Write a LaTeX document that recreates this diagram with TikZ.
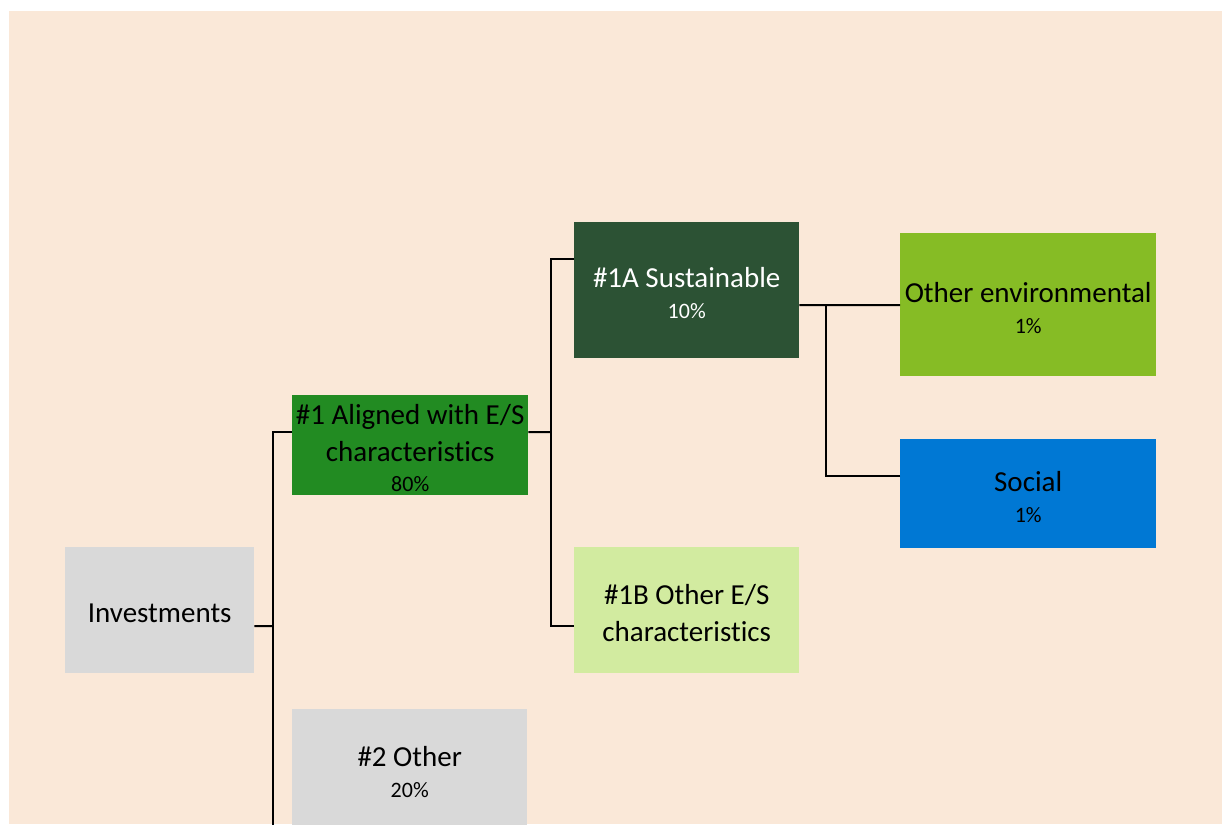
\documentclass[tikz,border=0pt]{standalone}
\usepackage{fontspec}
\setmainfont{Carlito}[Ligatures=NoCommon]
\definecolor{peach}{HTML}{FAE8D8}
\definecolor{boxgray}{HTML}{D9D9D9}
\definecolor{forest}{HTML}{228B22}
\definecolor{darkgreen}{HTML}{2C5234}
\definecolor{lightgreen}{HTML}{D2EBA0}
\definecolor{olive}{HTML}{86BC25}
\definecolor{blueS}{HTML}{0078D4}
\newcommand{\mainfs}{\fontsize{29}{37}\selectfont}
\newcommand{\pctfs}{\fontsize{22}{27}\selectfont}
\begin{document}
\begin{tikzpicture}[x=1pt,y=-1pt,
  boxnode/.style={rectangle, inner sep=0pt, anchor=north west},
  boxtext/.style={inner sep=0pt, align=center, font=\mainfs, text=black, yshift=-3pt},
  link/.style={draw=black, line width=2pt}]
\useasboundingbox (0,0) rectangle (1222,824);
\clip (0,0) rectangle (1222,824);
\fill[peach] (9,11) rectangle (1222,824);

\node[boxnode, fill=boxgray, minimum width=189pt, minimum height=126pt,
  label={[boxtext]center:Investments}] (inv) at (65,547) {};
\node[boxnode, fill=forest, minimum width=236pt, minimum height=100pt,
  label={[boxtext]center:\#1 Aligned with E/S\\characteristics\\[-7pt]{\pctfs 80\%}}] (n1) at (292,395) {};
\node[boxnode, fill=boxgray, minimum width=235pt, minimum height=120pt,
  label={[boxtext]center:\#2 Other\\[-6pt]{\pctfs 20\%}}] (n2) at (292,709) {};
\node[boxnode, fill=darkgreen, minimum width=225pt, minimum height=136pt,
  label={[boxtext, text=white]center:\#1A Sustainable\\[-6pt]{\pctfs 10\%}}] (n1a) at (574,222) {};
\node[boxnode, fill=lightgreen, minimum width=225pt, minimum height=126pt,
  label={[boxtext]center:\#1B Other E/S\\characteristics}] (n1b) at (574,547) {};
\node[boxnode, fill=olive, minimum width=256pt, minimum height=143pt,
  label={[boxtext]center:Other environmental\\[-6pt]{\pctfs 1\%}}] (oenv) at (900,233) {};
\node[boxnode, fill=blueS, minimum width=256pt, minimum height=109pt,
  label={[boxtext]center:Social\\[-6pt]{\pctfs 1\%}}] (soc) at (900,439) {};

\coordinate (b1) at (273,626);
\coordinate (cut) at (273,830);
\coordinate (b2) at (551,432);
\coordinate (b3) at (826,305);

\draw[link] ([yshift=-16pt]inv.east) -- (b1);
\draw[link] ([yshift=13pt]n1.west) -| (b1) -- (cut);
\draw[link] ([yshift=13pt]n1.east) -- (b2);
\draw[link] ([yshift=31pt]n1a.west) -| (b2);
\draw[link] ([yshift=-16pt]n1b.west) -| (b2);
\draw[link] ([yshift=-15pt]n1a.east) -- (b3) -- (b3 -| oenv.west);
\draw[link] ([yshift=17.5pt]soc.west) -| (b3);
\end{tikzpicture}
\end{document}
